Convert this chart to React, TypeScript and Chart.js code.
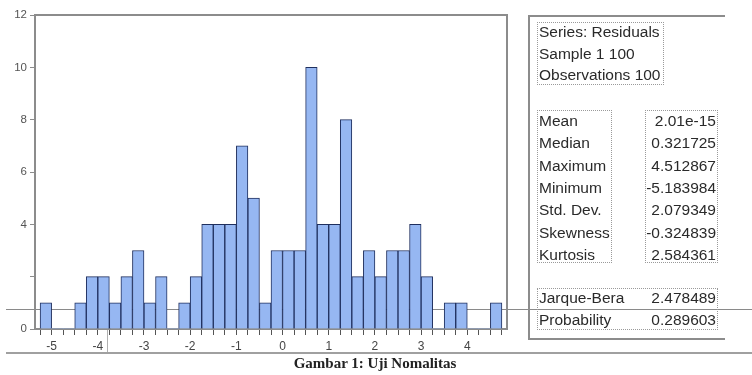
import React, { useEffect, useRef } from "react";
import { Chart, registerables } from "chart.js";

Chart.register(...registerables);

// ---- data ----
const binCenters = [
  -5.125, -4.875, -4.625, -4.375, -4.125, -3.875, -3.625, -3.375, -3.125, -2.875,
  -2.625, -2.375, -2.125, -1.875, -1.625, -1.375, -1.125, -0.875, -0.625, -0.375,
  -0.125, 0.125, 0.375, 0.625, 0.875, 1.125, 1.375, 1.625, 1.875, 2.125,
  2.375, 2.625, 2.875, 3.125, 3.375, 3.625, 3.875, 4.125, 4.375, 4.625,
];
const binCounts = [
  1, 0, 0, 1, 2, 2, 1, 2, 3, 1,
  2, 0, 1, 2, 4, 4, 4, 7, 5, 1,
  3, 3, 3, 10, 4, 4, 8, 2, 3, 2,
  3, 3, 4, 2, 0, 1, 1, 0, 0, 1,
];
const yTickValues = [0, 2, 4, 6, 8, 10, 12];
const yTickHidden = [2];
const xTickLabels = [-5, -4, -3, -2, -1, 0, 1, 2, 3, 4];

const headerLines = ["Series: Residuals", "Sample 1 100", "Observations 100"];
const statLabels = ["Mean", "Median", "Maximum", "Minimum", "Std. Dev.", "Skewness", "Kurtosis"];
const statValues = ["2.01e-15", "0.321725", "4.512867", "-5.183984", "2.079349", "-0.324839", "2.584361"];
const testLabels = ["Jarque-Bera", "Probability"];
const testValues = ["2.478489", "0.289603"];
const caption = "Gambar 1: Uji Nomalitas";

const W = 752;
const H = 375;
const SANS = "'Liberation Sans', Arial, sans-serif";

function Txt(props: { x: number; y: number; s: string; right?: boolean }) {
  const { x, y, s, right } = props;
  return (
    <div
      style={{
        position: "absolute",
        left: right ? undefined : x,
        right: right ? W - x : undefined,
        top: y - 11,
        height: 22,
        lineHeight: "22px",
        fontSize: 15.5,
        fontFamily: SANS,
        color: "#2a2a2a",
        whiteSpace: "nowrap",
      }}
    >
      {s}
    </div>
  );
}

function Box(props: { l: number; t: number; r: number; b: number }) {
  const { l, t, r, b } = props;
  return (
    <div
      style={{
        position: "absolute",
        left: l,
        top: t,
        width: r - l,
        height: b - t,
        border: "1px dotted #9a9a9a",
        boxSizing: "border-box",
      }}
    />
  );
}

function Line(props: { l: number; t: number; w: number; h: number; c?: string }) {
  const { l, t, w, h, c } = props;
  return (
    <div
      style={{
        position: "absolute",
        left: l,
        top: t,
        width: w,
        height: h,
        background: c || "#8c8c8c",
      }}
    />
  );
}

export default function App() {
  const ref = useRef<HTMLCanvasElement>(null);

  useEffect(() => {
    const canvas = ref.current;
    if (!canvas) return;
    const framePlugin = {
      id: "frame",
      afterDatasetsDraw(chart: any) {
        const { ctx, chartArea: a } = chart;
        ctx.save();
        ctx.strokeStyle = "#8c8c8c";
        ctx.lineWidth = 2;
        ctx.beginPath();
        ctx.moveTo(a.left, a.top);
        ctx.lineTo(a.right, a.top);
        ctx.lineTo(a.right, a.bottom);
        ctx.stroke();
        ctx.restore();
      },
    };
    const chart = new Chart(canvas, {
      type: "bar",
      data: {
        datasets: [
          {
            data: binCenters.map((x, i) => ({ x, y: binCounts[i] })),
            backgroundColor: "#96b7f2",
            borderColor: "#1f2f5e",
            borderWidth: (c: any) =>
              c.raw && c.raw.y === 0 ? 0 : { top: 1, left: 1, right: 1, bottom: 0 },
            borderSkipped: false,
            barPercentage: 1,
            categoryPercentage: 1,
          } as any,
        ],
      },
      options: {
        animation: false,
        responsive: false,
        maintainAspectRatio: false,
        events: [],
        layout: { padding: { left: 0, top: 15, right: W - 507, bottom: 0 } },
        plugins: { legend: { display: false }, tooltip: { enabled: false } },
        scales: {
          x: {
            type: "linear",
            min: -5.36,
            max: 4.86,
            offset: false,
            afterFit: (s: any) => {
              s.height = H - 329;
            },
            ticks: {
              stepSize: 0.25,
              includeBounds: false,
              autoSkip: false,
              maxRotation: 0,
              padding: 4,
              color: "#444",
              font: { family: SANS, size: 12 },
              callback: (v: any) => {
                const n = Number(v);
                const hit = xTickLabels.find((t) => Math.abs(t - n) < 1e-6);
                return hit === undefined ? "" : String(hit);
              },
            },
            grid: {
              display: true,
              drawOnChartArea: false,
              drawTicks: true,
              tickLength: 6,
              offset: false,
              color: "#555",
            },
            border: { display: true, color: "#8c8c8c", width: 2 },
          },
          y: {
            type: "linear",
            min: 0,
            max: 12,
            afterFit: (s: any) => {
              s.width = 35;
            },
            afterBuildTicks: (s: any) => {
              s.ticks = yTickValues.map((v) => ({ value: v }));
            },
            ticks: {
              padding: 3,
              color: "#555",
              font: { family: SANS, size: 11.5 },
              callback: (v: any) => (yTickHidden.includes(Number(v)) ? "" : String(v)),
            },
            grid: {
              display: true,
              drawOnChartArea: false,
              drawTicks: true,
              tickLength: 5,
              color: "#8c8c8c",
            },
            border: { display: true, color: "#8c8c8c", width: 2 },
          },
        },
      } as any,
      plugins: [framePlugin],
    });
    return () => chart.destroy();
  }, []);

  const statTop = 121;
  const statStep = 22.3;

  return (
    <div
      style={{
        position: "fixed",
        left: 0,
        top: 0,
        width: W,
        height: H,
        background: "#fff",
        overflow: "hidden",
      }}
    >
      {/* background artifact lines (behind chart) */}
      <Line l={6} t={308.5} w={W - 6} h={1.5} c="#8a8a8a" />
      <Line l={6} t={352} w={W - 6} h={2} c="#a0a0a0" />
      <Line l={106.5} t={330} w={1} h={22} c="#b0b0b0" />

      <canvas
        ref={ref}
        width={W}
        height={H}
        style={{ position: "absolute", left: 0, top: 0, width: W, height: H }}
      />

      {/* statistics panel */}
      <Line l={528} t={14.5} w={197} h={2} />
      <Line l={528} t={14.5} w={2} h={325} />
      <Line l={528} t={338} w={197} h={2} />

      <Box l={537} t={22} r={664} b={85} />
      {headerLines.map((s, i) => (
        <Txt key={s} x={539} y={32 + i * 21.5} s={s} />
      ))}

      <Box l={537} t={110} r={612} b={263} />
      <Box l={645} t={110} r={718} b={263} />
      {statLabels.map((s, i) => (
        <Txt key={s} x={539} y={statTop + i * statStep} s={s} />
      ))}
      {statValues.map((s, i) => (
        <Txt key={s + i} x={716} y={statTop + i * statStep} s={s} right />
      ))}

      <Box l={537} t={288} r={718} b={330} />
      {testLabels.map((s, i) => (
        <Txt key={s} x={539} y={298 + i * 22} s={s} />
      ))}
      {testValues.map((s, i) => (
        <Txt key={s} x={716} y={298 + i * 22} s={s} right />
      ))}

      <div
        style={{
          position: "absolute",
          left: 0,
          width: 750,
          top: 355,
          height: 17,
          lineHeight: "17px",
          textAlign: "center",
          fontFamily: "'Liberation Serif', 'Times New Roman', serif",
          fontWeight: "bold",
          fontSize: 15,
          color: "#222",
        }}
      >
        {caption}
      </div>
    </div>
  );
}
